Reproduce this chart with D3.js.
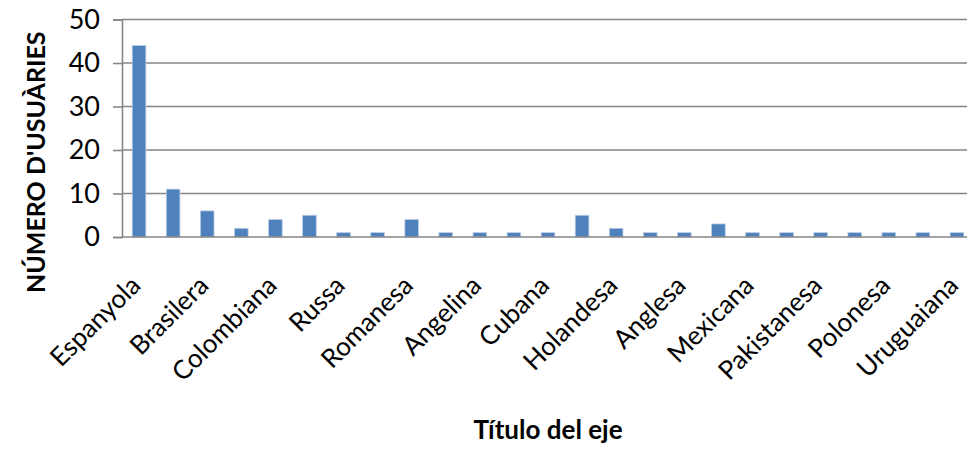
<!DOCTYPE html>
<html>
<head>
<meta charset="utf-8">
<script src="https://cdn.jsdelivr.net/npm/d3@7"></script>
<style>
  html, body { margin: 0; padding: 0; background: #fff; }
  svg { display: block; }
  text { font-family: Lato, "Open Sans", sans-serif; fill: #000; }
</style>
</head>
<body>
<svg id="chart" width="967" height="450"></svg>
<script>
// Category labels (only every other category label is shown on the axis; hidden ones unknown)
const categories = [
  "Espanyola", null, "Brasilera", null, "Colombiana", null, "Russa", null,
  "Romanesa", null, "Angelina", null, "Cubana", null, "Holandesa", null,
  "Anglesa", null, "Mexicana", null, "Pakistanesa", null, "Polonesa", null,
  "Uruguaiana"
];
const values = [44, 11, 6, 2, 4, 5, 1, 1, 4, 1, 1, 1, 1, 5, 2, 1, 1, 3, 1, 1, 1, 1, 1, 1, 1];
const yTicks = [0, 10, 20, 30, 40, 50];
const yTitle = "NÚMERO D'USUÀRIES";
const xTitle = "Título del eje";

const svg = d3.select("#chart");
const plotLeft = 122, plotRight = 974, plotTop = 19.5, plotBottom = 237;

const x = d3.scaleBand().domain(d3.range(values.length)).range([plotLeft, plotRight]).paddingInner(0.6).paddingOuter(0.3);
const y = d3.scaleLinear().domain([0, 50]).range([plotBottom, plotTop]);

const gridColor = "#868686";

// gridlines
svg.append("g").selectAll("line").data(yTicks.filter(d => d !== 0)).join("line")
  .attr("x1", plotLeft).attr("x2", 967)
  .attr("y1", d => y(d)).attr("y2", d => y(d))
  .attr("stroke", gridColor).attr("stroke-width", 1.6);

// bars
svg.append("g").selectAll("rect").data(values).join("rect")
  .attr("x", (d, i) => x(i))
  .attr("width", x.bandwidth())
  .attr("y", d => y(d))
  .attr("height", d => y(0) - y(d))
  .attr("fill", "#4F81BD")
  .attr("stroke", "#b9cde5").attr("stroke-width", 0.8);

// y axis
const yAxis = d3.axisLeft(y).tickValues(yTicks).tickSize(9).tickPadding(13).tickFormat(d3.format("d"));
const gy = svg.append("g").attr("transform", `translate(${plotLeft},0)`).call(yAxis);
gy.select(".domain").attr("stroke", gridColor).attr("stroke-width", 1.6);
gy.selectAll(".tick line").attr("stroke", gridColor).attr("stroke-width", 1.6);
gy.selectAll(".tick text").style("font-size", "27px").style("font-family", "Lato, sans-serif").attr("fill", "#000");

// x axis
const xAxis = d3.axisBottom(x).tickSize(0).tickFormat(i => categories[i] || "");
const gx = svg.append("g").attr("transform", `translate(0,${plotBottom})`).call(xAxis);
gx.select(".domain").attr("d", `M${plotLeft},0H967`).attr("stroke", gridColor).attr("stroke-width", 1.6);
gx.selectAll(".tick text")
  .style("font-size", "26px").style("font-family", "Lato, sans-serif").attr("fill", "#000")
  .attr("text-anchor", "end")
  .attr("dy", 0).attr("y", 0)
  .attr("transform", "translate(3,50) rotate(-45)");

// axis titles
svg.append("text")
  .attr("transform", `translate(45,${(plotTop + 293) / 2 + 6}) rotate(-90)`)
  .attr("text-anchor", "middle")
  .style("font-size", "25px").style("font-weight", "bold")
  .text(yTitle);

svg.append("text")
  .attr("x", 548).attr("y", 439)
  .attr("text-anchor", "middle")
  .style("font-size", "26px").style("font-weight", "bold")
  .text(xTitle);
</script>
</body>
</html>
